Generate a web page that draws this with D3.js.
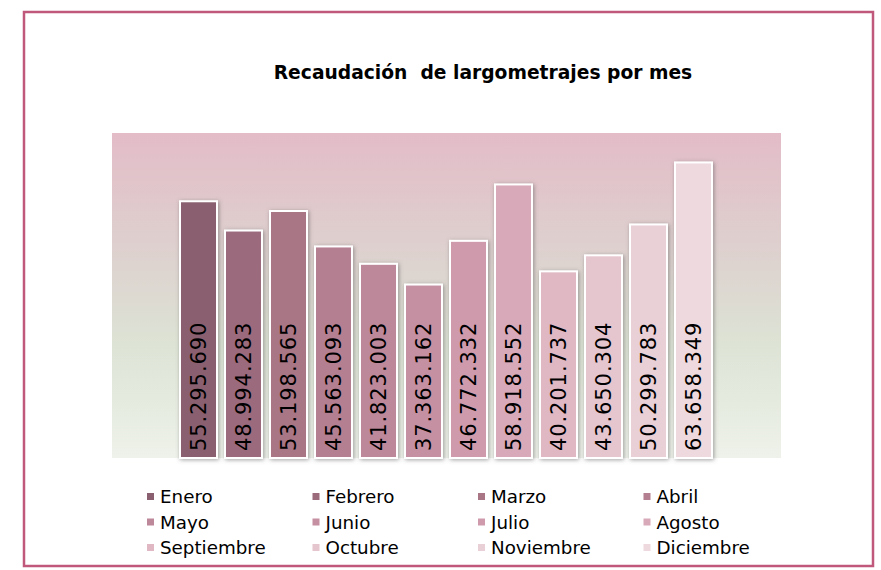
<!DOCTYPE html>
<html>
<head>
<meta charset="utf-8">
<script src="https://cdn.jsdelivr.net/npm/d3@7"></script>
<style>
    body { margin: 0; background: #fff; }
    svg { display: block; }
    text { font-family: "DejaVu Sans", Verdana, sans-serif; }
</style>
</head>
<body>
<div id="chart"></div>
<script>
// datos
var meses = ["Enero", "Febrero", "Marzo", "Abril", "Mayo", "Junio",
    "Julio", "Agosto", "Septiembre", "Octubre", "Noviembre", "Diciembre"];
var recaudacion = [55295690, 48994283, 53198565, 45563093, 41823003, 37363162,
    46772332, 58918552, 40201737, 43650304, 50299783, 63658349];
var colores = ["#8a6070", "#9b6b7c", "#a87685", "#b47f90", "#bd8899", "#c690a3",
    "#cf9bac", "#d8a9b8", "#dfb8c4", "#e5c5ce", "#e9cfd6", "#eed9de"];
var titulo = "Recaudación  de largometrajes por mes";

var width = 881, height = 570;

var svg = d3.select("#chart").append("svg")
    .attr("width", width)
    .attr("height", height);

var defs = svg.append("defs");

var grad = defs.append("linearGradient")
    .attr("id", "fondo")
    .attr("x1", 0).attr("y1", 0).attr("x2", 0).attr("y2", 1);
grad.append("stop").attr("offset", "0%").attr("stop-color", "#e3bcc8");
grad.append("stop").attr("offset", "40%").attr("stop-color", "#ddd3cf");
grad.append("stop").attr("offset", "65%").attr("stop-color", "#dde3d5");
grad.append("stop").attr("offset", "100%").attr("stop-color", "#eef2ea");

var sombra = defs.append("filter")
    .attr("id", "sombra")
    .attr("x", "-30%").attr("y", "-10%")
    .attr("width", "160%").attr("height", "120%");
sombra.append("feDropShadow")
    .attr("dx", 1).attr("dy", 1)
    .attr("stdDeviation", 2)
    .attr("flood-color", "#555")
    .attr("flood-opacity", 0.55);

// marco exterior
svg.append("rect")
    .attr("x", 24).attr("y", 12)
    .attr("width", 849).attr("height", 554)
    .attr("fill", "#fff")
    .attr("stroke", "#c0587c")
    .attr("stroke-width", 2.5);

svg.append("text")
    .attr("x", 483).attr("y", 79)
    .attr("text-anchor", "middle")
    .attr("font-size", 18.7)
    .attr("font-weight", "bold")
    .attr("fill", "#000")
    .style("white-space", "pre")
    .text(titulo);

var plot = { left: 112, right: 781, top: 133, bottom: 458 };

svg.append("rect")
    .attr("x", plot.left).attr("y", plot.top)
    .attr("width", plot.right - plot.left)
    .attr("height", plot.bottom - plot.top)
    .attr("fill", "url(#fondo)");

var xScale = d3.scaleBand()
    .domain(meses)
    .range([180, 712])
    .paddingInner(8 / 45)
    .paddingOuter(0);

var yScale = d3.scaleLinear()
    .domain([0, 70000000])
    .range([plot.bottom, plot.top]);

var fmt = d3.formatLocale({ decimal: ",", thousands: ".", grouping: [3], currency: ["", ""] }).format(",d");

var g = svg.append("g");

g.selectAll(".bar")
    .data(meses)
    .enter().append("rect")
    .attr("class", "bar")
    .attr("x", function (d) { return xScale(d); })
    .attr("y", function (d, i) { return yScale(recaudacion[i]); })
    .attr("width", xScale.bandwidth())
    .attr("height", function (d, i) { return plot.bottom - yScale(recaudacion[i]); })
    .attr("fill", function (d, i) { return colores[i]; })
    .attr("stroke", "#fff")
    .attr("stroke-width", 2)
    .attr("filter", "url(#sombra)");

g.selectAll(".etiqueta")
    .data(meses)
    .enter().append("text")
    .attr("class", "etiqueta")
    .attr("transform", function (d) {
        return "translate(" + (xScale(d) + xScale.bandwidth() / 2 + 7.5) + "," + (plot.bottom - 7) + ") rotate(-90)";
    })
    .attr("font-size", 21)
    .attr("letter-spacing", 0.9)
    .attr("fill", "#000")
    .text(function (d, i) { return fmt(recaudacion[i]); });

// leyenda
var leyenda = svg.append("g")
    .selectAll("g")
    .data(meses)
    .enter().append("g")
    .attr("transform", function (d, i) {
        return "translate(" + (147 + (i % 4) * 165.5) + "," + (497 + Math.floor(i / 4) * 25.5) + ")";
    });

leyenda.append("rect")
    .attr("x", 0).attr("y", -4)
    .attr("width", 7).attr("height", 7)
    .attr("fill", function (d, i) { return colores[i]; });

leyenda.append("text")
    .attr("x", 13).attr("y", 6)
    .attr("font-size", 18.3)
    .attr("fill", "#000")
    .text(function (d) { return d; });
</script>
</body>
</html>
